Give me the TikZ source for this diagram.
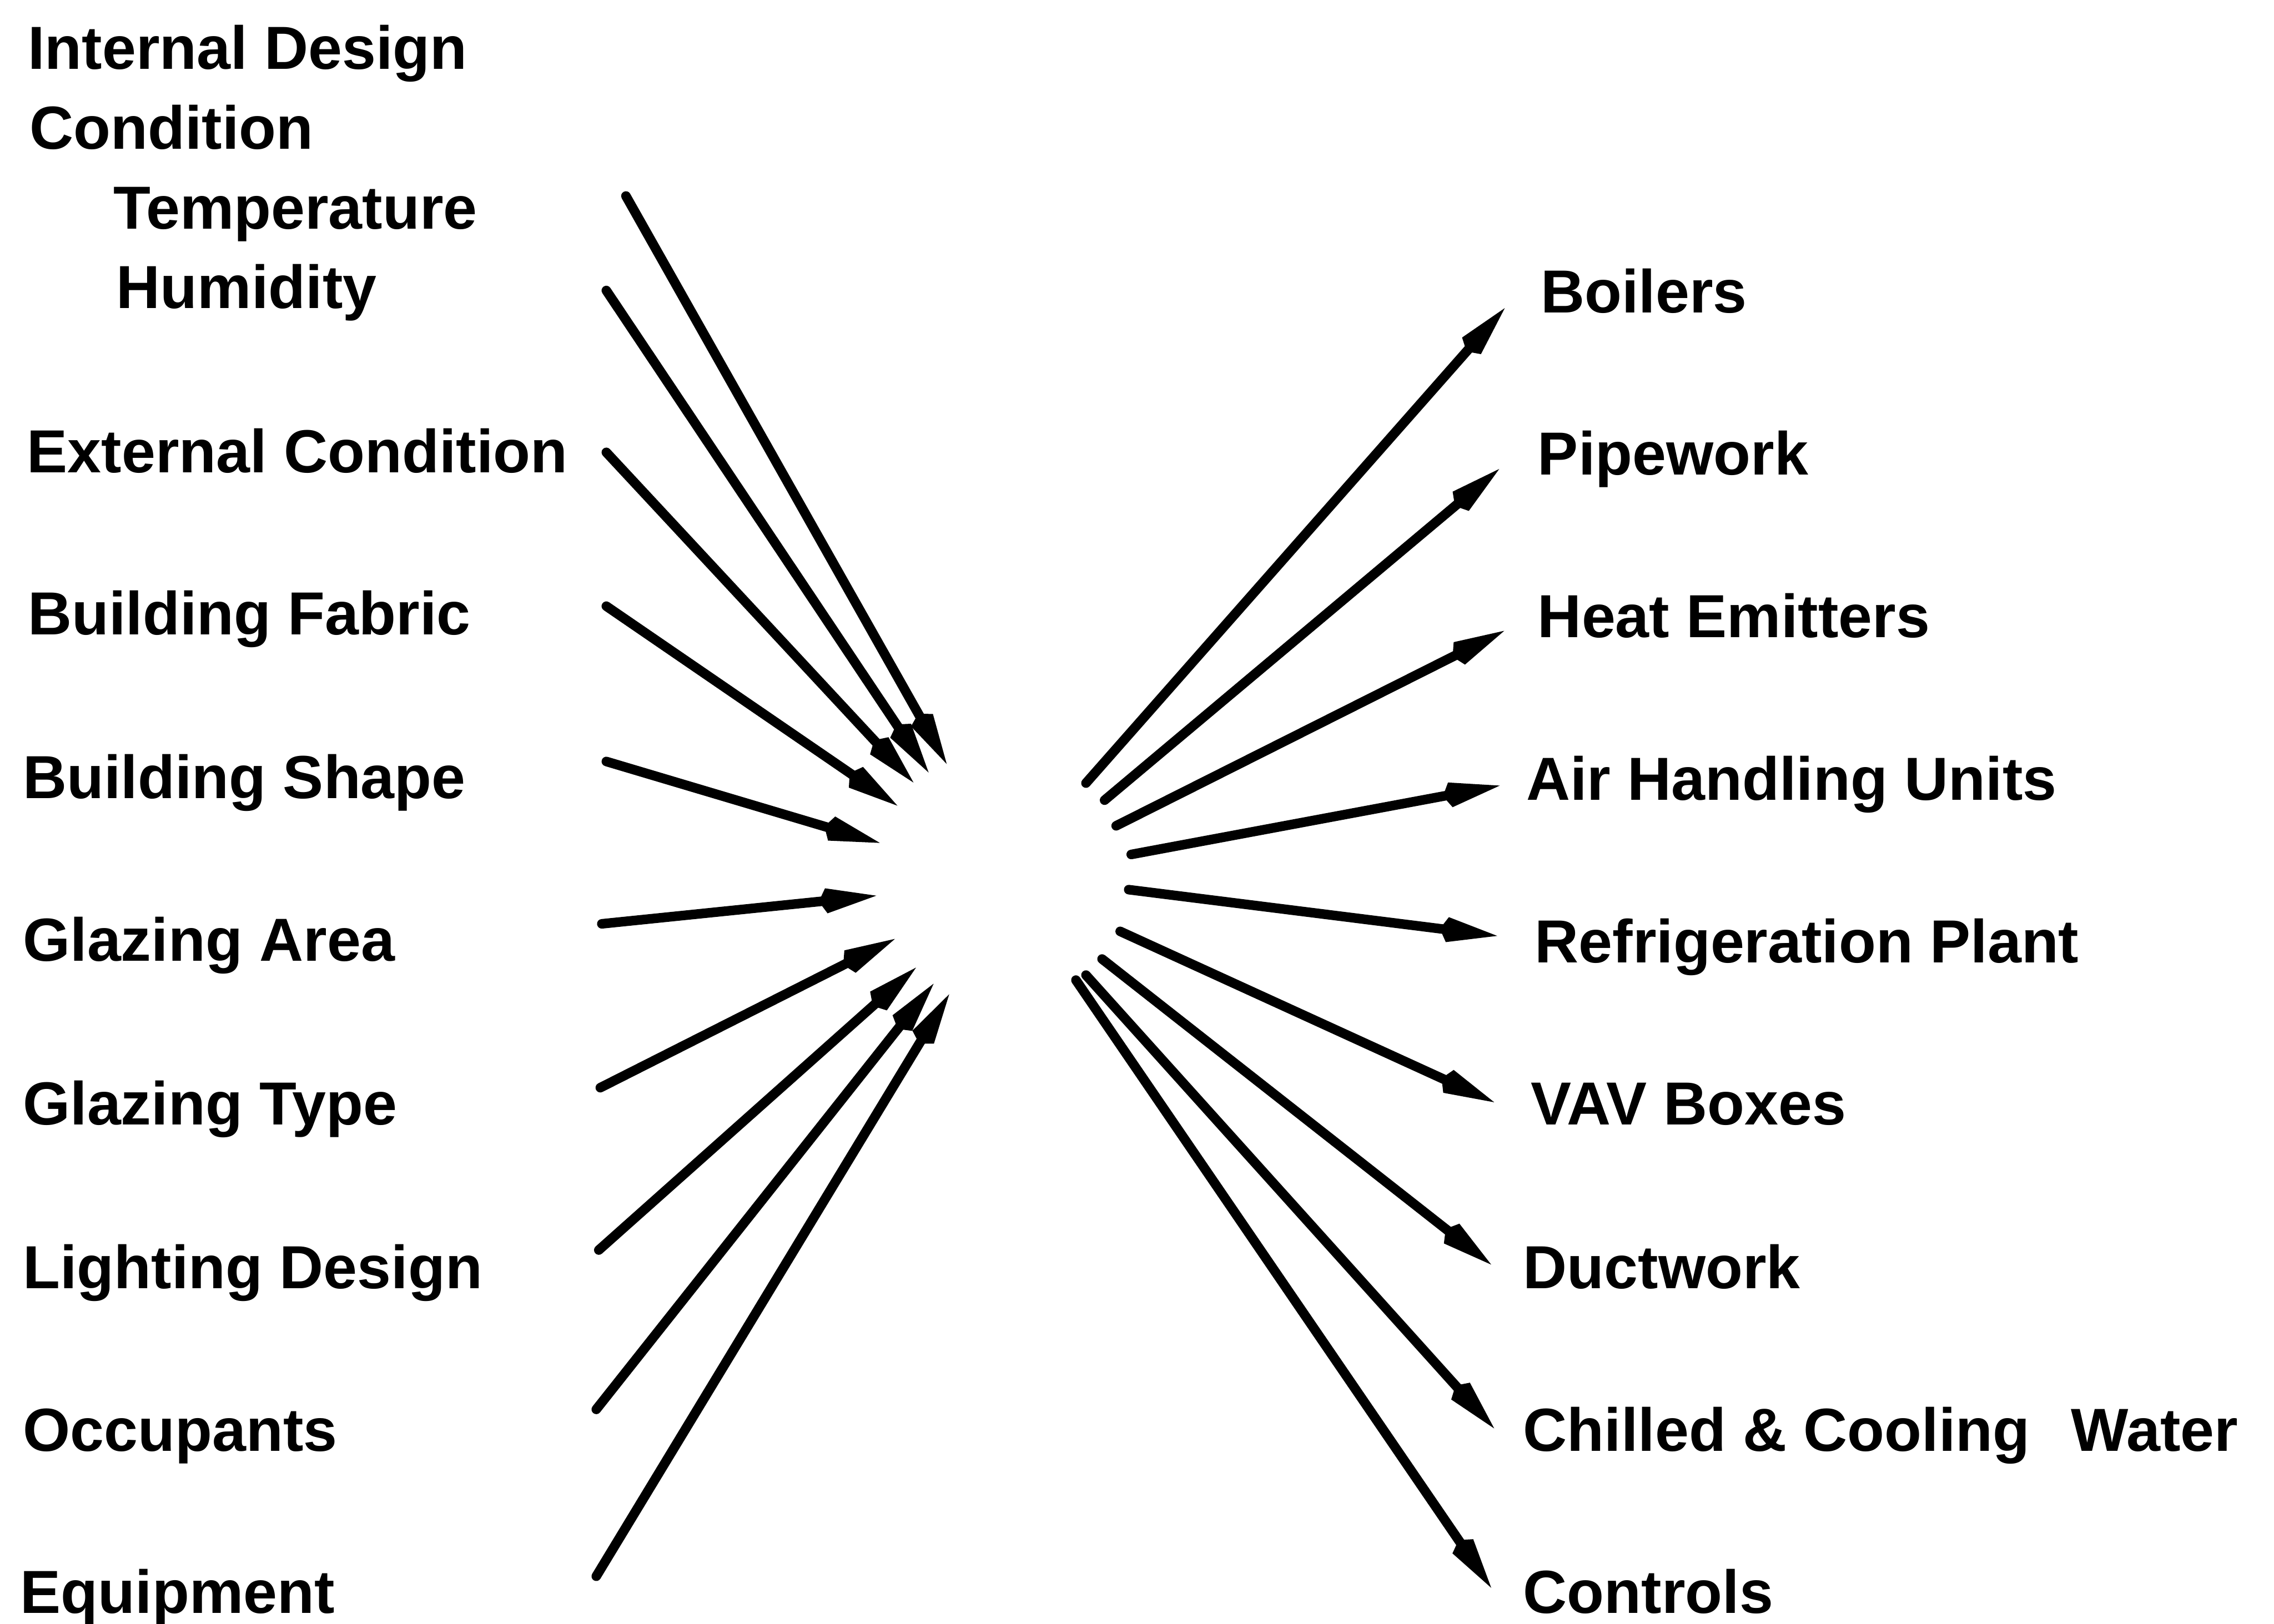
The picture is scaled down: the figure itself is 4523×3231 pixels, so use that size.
\documentclass[tikz,border=0pt]{standalone}
\usepackage{fontspec}
\setmainfont{Liberation Sans}
\usetikzlibrary{arrows.meta}
\begin{document}
\begin{tikzpicture}[x=0.01cm,y=-0.01cm,
  lbl/.style={anchor=base west,inner sep=0pt,font=\fontsize{34.4pt}{41pt}\selectfont\bfseries},
  arr/.style={line width=0.19cm,line cap=round,-{Kite[length=1.15cm,width=0.5cm,inset=0.15cm]}}]
\useasboundingbox (0,0) rectangle (4523,3231);
% left labels
\node[lbl] (idc1) at (55,137) {Internal Design};
\node[lbl] (idc2) at (58,296) {Condition};
\node[lbl] (temp) at (225,455) {Temperature};
\node[lbl] (hum) at (231,613) {Humidity};
\node[lbl] (ext) at (53,940) {External Condition};
\node[lbl] (fab) at (55,1263) {Building Fabric};
\node[lbl] (shp) at (45,1588) {Building Shape};
\node[lbl] (garea) at (45,1912) {Glazing Area};
\node[lbl] (gtype) at (45,2238) {Glazing Type};
\node[lbl] (light) at (45,2564) {Lighting Design};
\node[lbl] (occ) at (45,2887) {Occupants};
\node[lbl] (equip) at (40,3210) {Equipment};
% right labels
\node[lbl] (boil) at (3064,622) {Boilers};
\node[lbl] (pipe) at (3058,945) {Pipework};
\node[lbl] (heat) at (3058,1268) {Heat Emitters};
\node[lbl] (ahu) at (3035,1592) {Air Handling Units};
\node[lbl] (refr) at (3052,1915) {Refrigeration Plant};
\node[lbl] (vav) at (3044,2238) {VAV Boxes};
\node[lbl] (duct) at (3029,2564) {Ductwork};
\node[lbl] (chill) at (3029,2887) {Chilled \& Cooling\hspace{0.4em} Water};
\node[lbl] (ctrl) at (3029,3210) {Controls};
% left arrow ends
\coordinate (sT) at (1245,390);  \coordinate (eT) at (1883,1520);
\coordinate (sH) at (1206,578);  \coordinate (eH) at (1847,1537);
\coordinate (sE) at (1206,900);  \coordinate (eE) at (1817,1557);
\coordinate (sF) at (1206,1206); \coordinate (eF) at (1785,1603);
\coordinate (sS) at (1206,1515); \coordinate (eS) at (1750,1677);
\coordinate (sGA) at (1197,1838); \coordinate (eGA) at (1743,1782);
\coordinate (sGT) at (1194,2164); \coordinate (eGT) at (1780,1868);
\coordinate (sL) at (1191,2487); \coordinate (eL) at (1822,1925);
\coordinate (sO) at (1186,2804); \coordinate (eO) at (1857,1957);
\coordinate (sQ) at (1186,3136); \coordinate (eQ) at (1888,1978);
% right arrow ends
\coordinate (rB) at (2160,1558); \coordinate (tB) at (2993,613);
\coordinate (rP) at (2197,1592); \coordinate (tP) at (2982,933);
\coordinate (rH) at (2220,1643); \coordinate (tH) at (2992,1255);
\coordinate (rA) at (2250,1700); \coordinate (tA) at (2983,1563);
\coordinate (rR) at (2245,1770); \coordinate (tR) at (2978,1862);
\coordinate (rV) at (2228,1853); \coordinate (tV) at (2972,2193);
\coordinate (rD) at (2192,1908); \coordinate (tD) at (2966,2516);
\coordinate (rC) at (2160,1940); \coordinate (tC) at (2972,2842);
\coordinate (rK) at (2140,1950); \coordinate (tK) at (2966,3159);
% arrows
\foreach \a/\b in {sT/eT,sH/eH,sE/eE,sF/eF,sS/eS,sGA/eGA,sGT/eGT,sL/eL,sO/eO,sQ/eQ,
                   rB/tB,rP/tP,rH/tH,rA/tA,rR/tR,rV/tV,rD/tD,rC/tC,rK/tK}
  \draw[arr] (\a) -- (\b);
\end{tikzpicture}
\end{document}
